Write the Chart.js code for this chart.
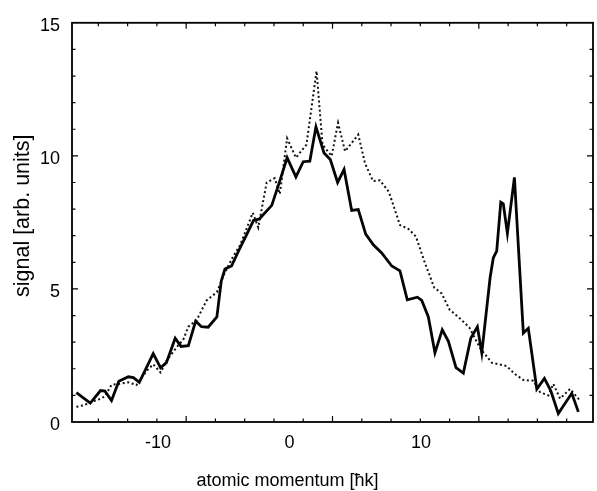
<!DOCTYPE html>
<html>
<head>
<meta charset="utf-8">
<script src="https://cdn.jsdelivr.net/npm/chart.js@4/dist/chart.umd.min.js"></script>
<style>
  html, body { margin: 0; padding: 0; background: #fff; }
  canvas { display: block; }
</style>
</head>
<body>
<canvas id="c" width="597" height="491"></canvas>
<script>
// ---- data ----
const solidX = [-17.5, -16.55, -15.85, -15.55, -15.1, -14.6, -13.95, -13.6, -13.2, -12.25, -11.75, -11.35,
  -10.75, -10.35, -9.85, -9.35, -8.95, -8.5, -7.9, -7.6, -7.35, -6.9, -6.4, -5.9, -5.4, -5.0, -4.15, -3.6,
  -3.1, -2.5, -2.0, -1.55, -1.13, -0.58, -0.15, 0.35, 0.79, 1.31, 1.76, 2.27, 2.79, 3.36, 4.05, 4.61,
  5.11, 5.8, 6.1, 6.55, 7.0, 7.5, 7.92, 8.44, 8.94, 9.45, 9.9, 10.2, 10.77, 10.99, 11.22, 11.5, 11.67,
  11.95, 12.43, 13.04, 13.38, 13.96, 14.48, 14.91, 15.43, 16.35, 16.8];
const solidY = [1.10, 0.71, 1.18, 1.16, 0.81, 1.53, 1.70, 1.67, 1.49, 2.57, 2.04, 2.23,
  3.15, 2.84, 2.87, 3.79, 3.58, 3.56, 3.95, 5.30, 5.75, 5.86, 6.45, 7.0, 7.57, 7.63, 8.14, 9.06,
  9.93, 9.21, 9.78, 9.80, 11.09, 10.11, 9.86, 9.0, 9.49, 7.95, 7.98, 7.06, 6.66, 6.35, 5.86, 5.68,
  4.59, 4.69, 4.57, 3.95, 2.60, 3.46, 3.03, 2.04, 1.84, 3.15, 3.58, 2.60, 5.43, 6.17, 6.42, 8.26, 8.20,
  7.09, 9.19, 3.34, 3.52, 1.24, 1.64, 1.18, 0.32, 1.08, 0.38];

const dottedX = [-17.5, -17.0, -16.5, -16.0, -15.55, -15.1, -14.6, -13.95, -13.4, -12.7, -12.25, -11.75,
  -11.35, -10.65, -10.2, -9.85, -9.28, -8.6, -7.9, -7.35, -6.78, -6.3, -5.45, -5.07, -4.5, -3.95, -3.6,
  -3.1, -2.5, -1.78, -1.09, -0.68, -0.06, 0.38, 0.86, 1.76, 2.22, 2.77, 3.25, 3.85, 4.61, 5.2, 5.7,
  6.3, 6.95, 7.46, 8.0, 8.71, 9.35, 10.08, 10.88, 11.9, 12.47, 13.04, 13.72, 14.18, 14.75, 15.09,
  15.55, 16.23, 16.91];
const dottedY = [0.57, 0.63, 0.75, 0.84, 0.96, 1.40, 1.43, 1.49, 1.39, 1.92, 2.17, 1.86,
  2.29, 2.81, 3.09, 3.58, 3.83, 4.57, 4.88, 5.62, 6.23, 6.66, 7.86, 7.31, 9.0, 9.16, 8.57,
  10.66, 9.93, 10.42, 13.19, 10.42, 9.99, 11.24, 10.17, 10.8, 9.72, 9.05, 9.08, 8.65, 7.4, 7.25, 6.97,
  6.0, 5.05, 4.83, 4.22, 3.89, 3.55, 2.78, 2.23, 2.1, 1.8, 1.58, 1.55, 1.12, 1.0, 1.43,
  0.88, 1.24, 0.81];

const xTickLabels = [-10, 0, 10];
const yTickLabels = [0, 5, 10, 15];
const xTickMarks = [-16, -14, -12, -10, -8, -6, -4, -2, 0, 2, 4, 6, 8, 10, 12, 14, 16];
const xMajorMarks = [-10, 0, 10];
const yTickMarks = [1, 2, 3, 4, 5, 6, 7, 8, 9, 10, 11, 12, 13, 14];
const yMajorMarks = [5, 10];
const xTitle = 'atomic momentum [ħk]';
const yTitle = 'signal [arb. units]';

const toPts = (xs, ys) => xs.map((v, i) => ({ x: v, y: ys[i] }));
const FONT = "'Liberation Sans', Arial, Helvetica, sans-serif";

const frameTicks = {
  id: 'frameTicks',
  afterDatasetsDraw(chart) {
    const { ctx, chartArea: a, scales } = chart;
    const x = scales.x, y = scales.y;
    ctx.save();
    ctx.strokeStyle = '#000';
    ctx.lineWidth = 1.2;
    ctx.beginPath();
    xTickMarks.forEach(v => {
      const p = x.getPixelForValue(v);
      const L = xMajorMarks.includes(v) ? 6 : 3.5;
      ctx.moveTo(p, a.bottom); ctx.lineTo(p, a.bottom - L);
      ctx.moveTo(p, a.top); ctx.lineTo(p, a.top + L);
    });
    yTickMarks.forEach(v => {
      const p = y.getPixelForValue(v);
      const L = yMajorMarks.includes(v) ? 6 : 3.5;
      ctx.moveTo(a.left, p); ctx.lineTo(a.left + L, p);
      ctx.moveTo(a.right, p); ctx.lineTo(a.right - L, p);
    });
    ctx.stroke();
    ctx.lineWidth = 1.8;
    ctx.strokeRect(a.left, a.top, a.right - a.left, a.bottom - a.top);
    ctx.restore();
  },
  afterDraw(chart) {
    const { ctx, scales } = chart;
    const x2 = scales.x2, y = scales.y;
    ctx.save();
    ctx.fillStyle = '#000';
    ctx.textAlign = 'center';
    ctx.textBaseline = 'middle';
    // x-axis title, centred under the "0" label (as in the reference)
    ctx.font = '18px ' + FONT;
    ctx.fillText(xTitle, x2.getPixelForValue(0) - 2, x2.bottom - 10);
    // y-axis title, rotated, sitting slightly above the axis middle (as in the reference)
    ctx.font = '21.5px ' + FONT;
    ctx.translate(y.left + 23, y.getPixelForValue(7.75));
    ctx.rotate(-Math.PI / 2);
    ctx.fillText(yTitle, 0, 0);
    ctx.restore();
  }
};

new Chart(document.getElementById('c'), {
  type: 'line',
  data: {
    datasets: [
      {
        label: 'solid',
        data: toPts(solidX, solidY),
        borderColor: '#050505',
        borderWidth: 2.8,
        pointRadius: 0,
        tension: 0,
        xAxisID: 'x', yAxisID: 'y'
      },
      {
        label: 'dotted',
        data: toPts(dottedX, dottedY),
        borderColor: '#111',
        borderWidth: 2,
        borderDash: [2, 2.6],
        pointRadius: 0,
        tension: 0,
        xAxisID: 'x', yAxisID: 'y'
      }
    ]
  },
  options: {
    responsive: false,
    animation: false,
    devicePixelRatio: 1,
    layout: { padding: { top: 16, right: 4, left: 0, bottom: 0 } },
    plugins: { legend: { display: false }, tooltip: { enabled: false } },
    scales: {
      x: { type: 'linear', min: -17.8, max: 17.8, display: false },
      x2: {
        type: 'linear', position: 'bottom', min: -16.54, max: 23.08,
        afterBuildTicks: s => { s.ticks = xTickLabels.map(v => ({ value: v })); },
        grid: { display: false, drawTicks: false },
        border: { display: false },
        ticks: { color: '#000', font: { family: FONT, size: 18 }, padding: 10, autoSkip: false, maxRotation: 0 },
        title: { display: false, text: xTitle },
        afterFit: s => { s.height = 69; }
      },
      y: {
        type: 'linear', position: 'left', min: 0, max: 15,
        afterBuildTicks: s => { s.ticks = yTickLabels.map(v => ({ value: v })); },
        grid: { display: false, drawTicks: false },
        border: { display: false },
        ticks: { color: '#000', font: { family: FONT, size: 18 }, padding: 12, labelOffset: 3 },
        title: { display: false, text: yTitle },
        afterFit: s => { s.width = 72; }
      }
    }
  },
  plugins: [frameTicks]
});
</script>
</body>
</html>
